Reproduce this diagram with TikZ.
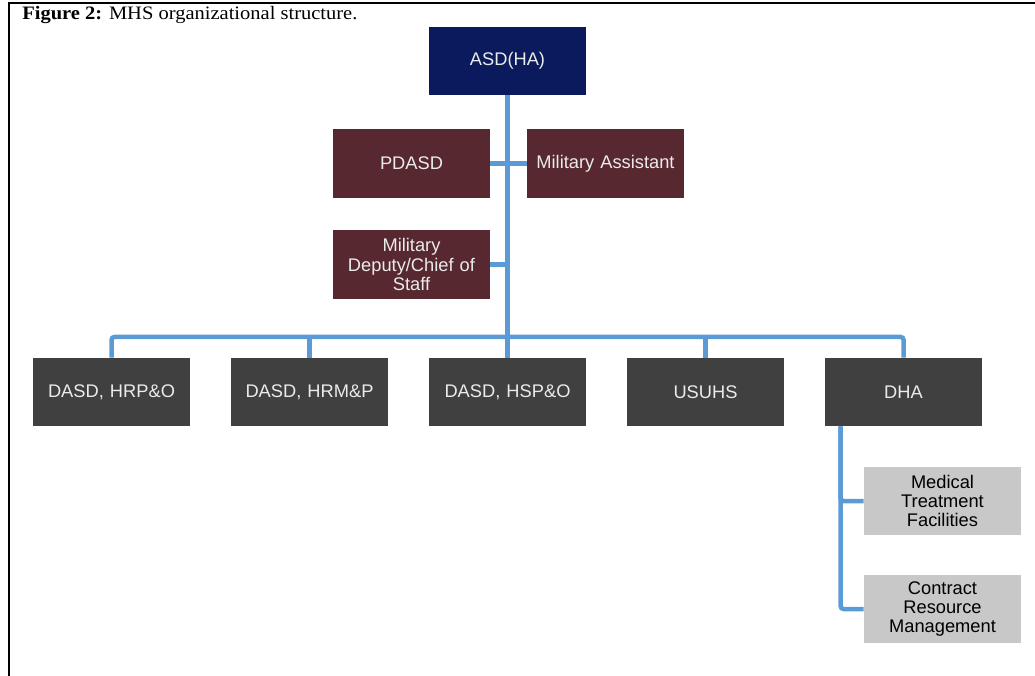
\documentclass[tikz,border=0pt]{standalone}
\usepackage{fontspec}
\setmainfont{Liberation Serif}
\newfontfamily\capfont[FakeStretch=1.08]{Liberation Serif}
\newfontfamily\boxfont{Liberation Sans}
\usetikzlibrary{positioning}

\definecolor{navy}{HTML}{0A1A5C}
\definecolor{wine}{HTML}{582830}
\definecolor{slate}{HTML}{404040}
\definecolor{pale}{HTML}{C8C8C8}
\definecolor{linkblue}{HTML}{5B9BD5}

\tikzset{
  orgbox/.style={rectangle, minimum width=3.925cm, minimum height=1.7cm,
    inner sep=1pt, align=center, text width=3.8cm,
    font=\boxfont\fontsize{13}{13.6}\selectfont},
  topbox/.style={orgbox, fill=navy, text=white!92!black},
  staffbox/.style={orgbox, fill=wine, text=white!92!black},
  unitbox/.style={orgbox, fill=slate, text=white!92!black},
  subbox/.style={orgbox, fill=pale, text=black},
  link/.style={draw=linkblue, line width=3.2pt, rounded corners=2pt}
}

\begin{document}
\begin{tikzpicture}[x=0.025cm, y=-0.025cm]
		\useasboundingbox (0,0) rectangle (1035,676);
		%% The frame and caption
		\draw[line width=1.5pt] (9,676) -- (9,3) -- (1035,3);
		\node[anchor=base west, inner sep=0pt, font=\capfont\fontsize{13.5}{15}\selectfont]
			(caption) at (22,20) {\textbf{Figure 2:} MHS organizational structure.};
		%% Invisibly Defining the bus
		\path (508,337) coordinate (bus);
		%% The boxes
		\node[topbox]   (asd)   at (507.5,61)  {ASD(HA)};
		\node[staffbox] (pdasd) at (411.5,163.5) {PDASD};
		\node[staffbox] (milas) at (605.5,163.5) {Military Assistant};
		\node[staffbox] (dep)   at (411.5,264.5) {Military\\Deputy/Chief of\\Staff};
		\node[unitbox]  (hrpo)  at (111.5,392) {DASD, HRP\&O};
		\node[unitbox]  (hrmp)  at (309.5,392) {DASD, HRM\&P};
		\node[unitbox]  (hspo)  at (507.5,392) {DASD, HSP\&O};
		\node[unitbox]  (usuhs) at (705.5,392) {USUHS};
		\node[unitbox]  (dha)   at (903.5,392) {DHA};
		\node[subbox]   (mtf)   at (942.5,501) {Medical\\Treatment\\Facilities};
		\node[subbox]   (crm)   at (942.5,609) {Contract\\Resource\\Management};
		%% Connecting lines
		\draw[link] (asd.south) -- (hspo.north);
		\draw[link] (pdasd.east) -- (milas.west);
		\draw[link] (dep.east) -- (dep.east -| asd.south);
		\draw[link] (hrpo.north) |- (bus) -| (dha.north);
		\draw[link] (hrmp.north) -- (hrmp.north |- bus);
		\draw[link] (usuhs.north) -- (usuhs.north |- bus);
		%% DHA branch
		\coordinate (dhastem) at ([xshift=0.4cm]dha.south west);
		\draw[link] (dhastem) |- (mtf.west);
		\draw[link] (dhastem) |- (crm.west);
\end{tikzpicture}
\end{document}
